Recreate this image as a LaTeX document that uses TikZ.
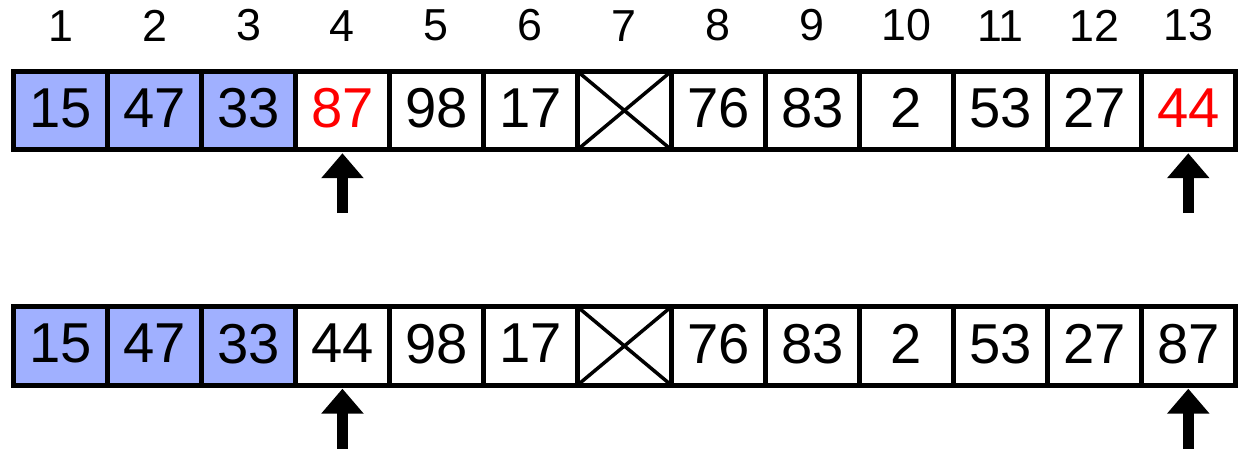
\documentclass[tikz,border=0pt]{standalone}
\usepackage{fontspec}
\setmainfont{Liberation Sans}
\usepackage{xcolor}
\usepackage{tikz}
\usetikzlibrary{arrows.meta,positioning}
\definecolor{doneblue}{RGB}{160,176,255}

\begin{document}
\begin{tikzpicture}[
  x=0.02cm, y=-0.02cm,
  cell/.style={draw, line width=0.1cm, minimum width=1.88cm, minimum height=1.57cm,
    inner sep=0pt, outer sep=0pt, text depth=0.1cm, fill=white, font=\fontsize{32}{38}\selectfont},
  done/.style={cell, fill=doneblue},
  hot/.style={text=red},
  idx/.style={inner sep=0pt, font=\fontsize{25.5}{30}\selectfont},
  gone/.style={line width=0.07cm},
  arr/.style={-{Triangle[length=0.5cm,width=0.82cm]}, line width=0.22cm, shorten >=0.07cm}
]
\useasboundingbox (0,0) rectangle (1242,451);
% before the swap
\node[done] (a1) at (60.5,110.5) {15};
\node[done, right=0pt of a1] (a2) {47};
\node[done, right=0pt of a2] (a3) {33};
\node[cell, hot, right=0pt of a3] (a4) {87};
\node[cell, right=0pt of a4] (a5) {98};
\node[cell, right=0pt of a5] (a6) {17};
\node[cell, right=0pt of a6] (a7) {};
\node[cell, right=0pt of a7] (a8) {76};
\node[cell, right=0pt of a8] (a9) {83};
\node[cell, right=0pt of a9] (a10) {2};
\node[cell, right=0pt of a10] (a11) {53};
\node[cell, right=0pt of a11] (a12) {27};
\node[cell, hot, right=0pt of a12] (a13) {44};
\draw[gone] (a7.north west) -- (a7.south east) (a7.south west) -- (a7.north east);
% indices
\node[idx, above=0.59cm of a1] (i1) {1};
\node[idx, above=0.59cm of a2] (i2) {2};
\node[idx, above=0.59cm of a3] (i3) {3};
\node[idx, above=0.59cm of a4] (i4) {4};
\node[idx, above=0.59cm of a5] (i5) {5};
\node[idx, above=0.59cm of a6] (i6) {6};
\node[idx, above=0.59cm of a7] (i7) {7};
\node[idx, above=0.59cm of a8] (i8) {8};
\node[idx, above=0.59cm of a9] (i9) {9};
\node[idx, above=0.59cm of a10] (i10) {10};
\node[idx, above=0.59cm of a11] (i11) {11};
\node[idx, above=0.59cm of a12] (i12) {12};
\node[idx, above=0.59cm of a13] (i13) {13};
% after the swap
\node[done, below=3.14cm of a1] (b1) {15};
\node[done, right=0pt of b1] (b2) {47};
\node[done, right=0pt of b2] (b3) {33};
\node[cell, right=0pt of b3] (b4) {44};
\node[cell, right=0pt of b4] (b5) {98};
\node[cell, right=0pt of b5] (b6) {17};
\node[cell, right=0pt of b6] (b7) {};
\node[cell, right=0pt of b7] (b8) {76};
\node[cell, right=0pt of b8] (b9) {83};
\node[cell, right=0pt of b9] (b10) {2};
\node[cell, right=0pt of b10] (b11) {53};
\node[cell, right=0pt of b11] (b12) {27};
\node[cell, right=0pt of b12] (b13) {87};
\draw[gone] (b7.north west) -- (b7.south east) (b7.south west) -- (b7.north east);
% pointers
\coordinate (pa4) at ([yshift=-1.27cm]a4.south);
\coordinate (pa13) at ([yshift=-1.27cm]a13.south);
\coordinate (pb4) at ([yshift=-1.27cm]b4.south);
\coordinate (pb13) at ([yshift=-1.27cm]b13.south);
\draw[arr] (pa4) -- (a4.south);
\draw[arr] (pa13) -- (a13.south);
\draw[arr] (pb4) -- (b4.south);
\draw[arr] (pb13) -- (b13.south);
\end{tikzpicture}
\end{document}
